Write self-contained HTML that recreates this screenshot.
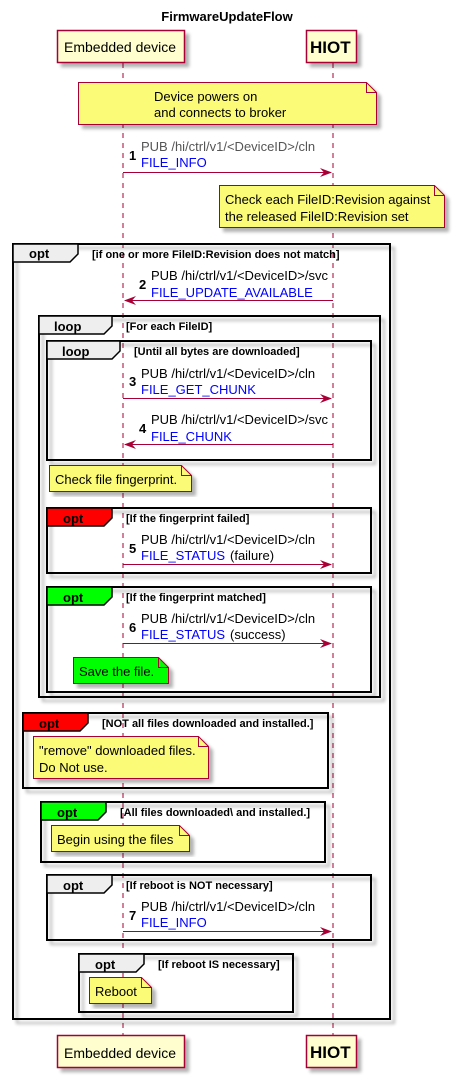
<!DOCTYPE html>
<html><head><meta charset="utf-8"><style>
html,body{margin:0;padding:0;background:#fff}
svg{display:block}
text{font-family:"Liberation Sans",sans-serif}
.m{font-size:13px;fill:#000}
.g{font-size:13px;fill:#555}
.b{font-size:13px;fill:#0000ff}
.n{font-size:13px;font-weight:bold}
.c{font-size:11px;font-weight:bold}
.t{font-size:13px;font-weight:bold}
.fr{fill:none;stroke:#000;stroke-width:2}
.nt{fill:#fbfb77;stroke:#a80036;stroke-width:1}
.ln{stroke:#a80036;stroke-width:1}
</style></head><body>
<svg width="455" height="1078" viewBox="0 0 455 1078" xmlns="http://www.w3.org/2000/svg">
<defs>
<filter id="sh" x="-10%" y="-10%" width="130%" height="130%"><feGaussianBlur in="SourceAlpha" stdDeviation="1.5"/><feOffset dx="4" dy="4"/><feComponentTransfer><feFuncA type="linear" slope="0.3"/></feComponentTransfer><feMerge><feMergeNode/><feMergeNode in="SourceGraphic"/></feMerge></filter>
</defs>
<text x="227" y="21" text-anchor="middle" font-size="13" font-weight="bold">FirmwareUpdateFlow</text>

<line x1="123" y1="63" x2="123" y2="1035" stroke="#a80036" stroke-dasharray="5,5"/>
<line x1="333" y1="63" x2="333" y2="1035" stroke="#a80036" stroke-dasharray="5,5"/>

<g filter="url(#sh)">
<rect x="57.5" y="30.5" width="127" height="32" fill="#fefece" stroke="#a80036" stroke-width="1.5"/>
<rect x="306.5" y="30.5" width="50" height="32" fill="#fefece" stroke="#a80036" stroke-width="1.5"/>
<rect x="57.5" y="1035.5" width="127" height="32" fill="#fefece" stroke="#a80036" stroke-width="1.5"/>
<rect x="306.5" y="1035.5" width="50" height="32" fill="#fefece" stroke="#a80036" stroke-width="1.5"/>
</g>
<text x="64" y="52" font-size="14">Embedded device</text>
<text x="310" y="53" font-size="17" font-weight="bold">HIOT</text>
<text x="64" y="1058" font-size="14">Embedded device</text>
<text x="310" y="1058" font-size="17" font-weight="bold">HIOT</text>

<path class="nt" filter="url(#sh)" d="M78.5,82.5 H366.5 L376.5,92.5 V124.5 H78.5 Z"/>
<path d="M366.5,82.5 V92.5 H376.5" fill="none" stroke="#a80036"/>
<text x="154" y="101" class="m">Device powers on</text>
<text x="154" y="117" class="m">and connects to broker</text>

<text x="129" y="160" class="n">1</text>
<text x="141" y="151" class="g">PUB /hi/ctrl/v1/&lt;DeviceID&gt;/cln</text>
<text x="141" y="167" class="b">FILE_INFO</text>
<line class="ln" x1="123" y1="172.5" x2="331" y2="172.5"/>
<path d="M320,168 L332,172.5 L320,177 L324,172.5 Z" fill="#a80036"/>

<path class="nt" filter="url(#sh)" d="M219.5,185.5 H434.5 L444.5,195.5 V227.5 H219.5 Z"/>
<path d="M434.5,185.5 V195.5 H444.5" fill="none" stroke="#a80036"/>
<text x="225" y="204" class="m">Check each FileID:Revision against</text>
<text x="225" y="221" class="m">the released FileID:Revision set</text>

<rect class="fr" filter="url(#sh)" x="13" y="244" width="377" height="775"/>
<path d="M13,244 H78 V254 L70,262 H13 Z" fill="#eee" stroke="#000" stroke-width="1.5"/>
<text x="29" y="258" class="t">opt</text>
<text x="92" y="258" class="c">[if one or more FileID:Revision does not match]</text>

<text x="139" y="289" class="n">2</text>
<text x="151" y="280" class="m">PUB /hi/ctrl/v1/&lt;DeviceID&gt;/svc</text>
<text x="151" y="297" class="b">FILE_UPDATE_AVAILABLE</text>
<line class="ln" x1="125" y1="300.5" x2="333" y2="300.5"/>
<path d="M136,296 L124,300.5 L136,305 L132,300.5 Z" fill="#a80036"/>

<rect class="fr" filter="url(#sh)" x="39" y="316" width="341" height="381"/>
<path d="M39,316 H112 V326 L104,334 H39 Z" fill="#eee" stroke="#000" stroke-width="1.5"/>
<text x="54" y="331" class="t">loop</text>
<text x="126" y="330" class="c">[For each FileID]</text>

<rect class="fr" filter="url(#sh)" x="47" y="341" width="324" height="119"/>
<path d="M47,341 H120 V351 L112,359 H47 Z" fill="#eee" stroke="#000" stroke-width="1.5"/>
<text x="62" y="356" class="t">loop</text>
<text x="134" y="355" class="c">[Until all bytes are downloaded]</text>

<text x="129" y="386" class="n">3</text>
<text x="141" y="378" class="m">PUB /hi/ctrl/v1/&lt;DeviceID&gt;/cln</text>
<text x="141" y="394" class="b">FILE_GET_CHUNK</text>
<line class="ln" x1="123" y1="398.5" x2="331" y2="398.5"/>
<path d="M320,394 L332,398.5 L320,403 L324,398.5 Z" fill="#a80036"/>

<text x="139" y="433" class="n">4</text>
<text x="151" y="424" class="m">PUB /hi/ctrl/v1/&lt;DeviceID&gt;/svc</text>
<text x="151" y="441" class="b">FILE_CHUNK</text>
<line class="ln" x1="125" y1="444.5" x2="333" y2="444.5"/>
<path d="M136,440 L124,444.5 L136,449 L132,444.5 Z" fill="#a80036"/>

<path class="nt" filter="url(#sh)" d="M49.5,465.5 H181.5 L191.5,475.5 V491.5 H49.5 Z"/>
<path d="M181.5,465.5 V475.5 H191.5" fill="none" stroke="#a80036"/>
<text x="55" y="484" class="m">Check file fingerprint.</text>

<rect class="fr" filter="url(#sh)" x="47" y="508" width="324" height="65"/>
<path d="M47,508 H112 V518 L104,526 H47 Z" fill="#ff0000" stroke="#000" stroke-width="1.5"/>
<text x="63" y="523" class="t">opt</text>
<text x="126" y="522" class="c">[If the fingerprint failed]</text>
<text x="129" y="553" class="n">5</text>
<text x="141" y="544" class="m">PUB /hi/ctrl/v1/&lt;DeviceID&gt;/cln</text>
<text x="141" y="560" class="b">FILE_STATUS</text><text x="230" y="560" class="m">(failure)</text>
<line class="ln" x1="123" y1="564.5" x2="331" y2="564.5"/>
<path d="M320,560 L332,564.5 L320,569 L324,564.5 Z" fill="#a80036"/>

<rect class="fr" filter="url(#sh)" x="47" y="587" width="324" height="105"/>
<path d="M47,587 H112 V597 L104,605 H47 Z" fill="#00ff00" stroke="#000" stroke-width="1.5"/>
<text x="63" y="602" class="t">opt</text>
<text x="126" y="601" class="c">[If the fingerprint matched]</text>
<text x="129" y="632" class="n">6</text>
<text x="141" y="623" class="m">PUB /hi/ctrl/v1/&lt;DeviceID&gt;/cln</text>
<text x="141" y="639" class="b">FILE_STATUS</text><text x="230" y="639" class="m">(success)</text>
<line class="ln" x1="123" y1="643.5" x2="331" y2="643.5"/>
<path d="M320,639 L332,643.5 L320,648 L324,643.5 Z" fill="#a80036"/>
<path filter="url(#sh)" d="M73.5,657.5 H158.5 L168.5,667.5 V683.5 H73.5 Z" fill="#00ff00" stroke="#a80036"/>
<path d="M158.5,657.5 V667.5 H168.5" fill="none" stroke="#a80036"/>
<text x="79" y="676" class="m">Save the file.</text>

<rect class="fr" filter="url(#sh)" x="23" y="713" width="305" height="75"/>
<path d="M23,713 H88 V723 L80,731 H23 Z" fill="#ff0000" stroke="#000" stroke-width="1.5"/>
<text x="39" y="728" class="t">opt</text>
<text x="102" y="727" class="c">[NOT all files downloaded and installed.]</text>
<path class="nt" filter="url(#sh)" d="M33.5,736.5 H198.5 L208.5,746.5 V778.5 H33.5 Z"/>
<path d="M198.5,736.5 V746.5 H208.5" fill="none" stroke="#a80036"/>
<text x="39" y="755" class="m">"remove" downloaded files.</text>
<text x="39" y="772" class="m">Do Not use.</text>

<rect class="fr" filter="url(#sh)" x="41" y="802" width="284" height="60"/>
<path d="M41,802 H106 V812 L98,820 H41 Z" fill="#00ff00" stroke="#000" stroke-width="1.5"/>
<text x="57" y="817" class="t">opt</text>
<text x="120" y="816" class="c">[All files downloaded\ and installed.]</text>
<path class="nt" filter="url(#sh)" d="M51.5,825.5 H179.5 L189.5,835.5 V851.5 H51.5 Z"/>
<path d="M179.5,825.5 V835.5 H189.5" fill="none" stroke="#a80036"/>
<text x="57" y="844" class="m">Begin using the files</text>

<rect class="fr" filter="url(#sh)" x="47" y="875" width="324" height="65"/>
<path d="M47,875 H112 V885 L104,893 H47 Z" fill="#eee" stroke="#000" stroke-width="1.5"/>
<text x="63" y="890" class="t">opt</text>
<text x="126" y="889" class="c">[If reboot is NOT necessary]</text>
<text x="129" y="920" class="n">7</text>
<text x="141" y="911" class="m">PUB /hi/ctrl/v1/&lt;DeviceID&gt;/cln</text>
<text x="141" y="927" class="b">FILE_INFO</text>
<line class="ln" x1="123" y1="931.5" x2="331" y2="931.5"/>
<path d="M320,927 L332,931.5 L320,936 L324,931.5 Z" fill="#a80036"/>

<rect class="fr" filter="url(#sh)" x="79" y="954" width="214" height="58"/>
<path d="M79,954 H144 V964 L136,972 H79 Z" fill="#eee" stroke="#000" stroke-width="1.5"/>
<text x="95" y="969" class="t">opt</text>
<text x="158" y="968" class="c">[If reboot IS necessary]</text>
<path class="nt" filter="url(#sh)" d="M89.5,977.5 H141.5 L151.5,987.5 V1003.5 H89.5 Z"/>
<path d="M141.5,977.5 V987.5 H151.5" fill="none" stroke="#a80036"/>
<text x="95" y="996" class="m">Reboot</text>
</svg>
</body></html>
